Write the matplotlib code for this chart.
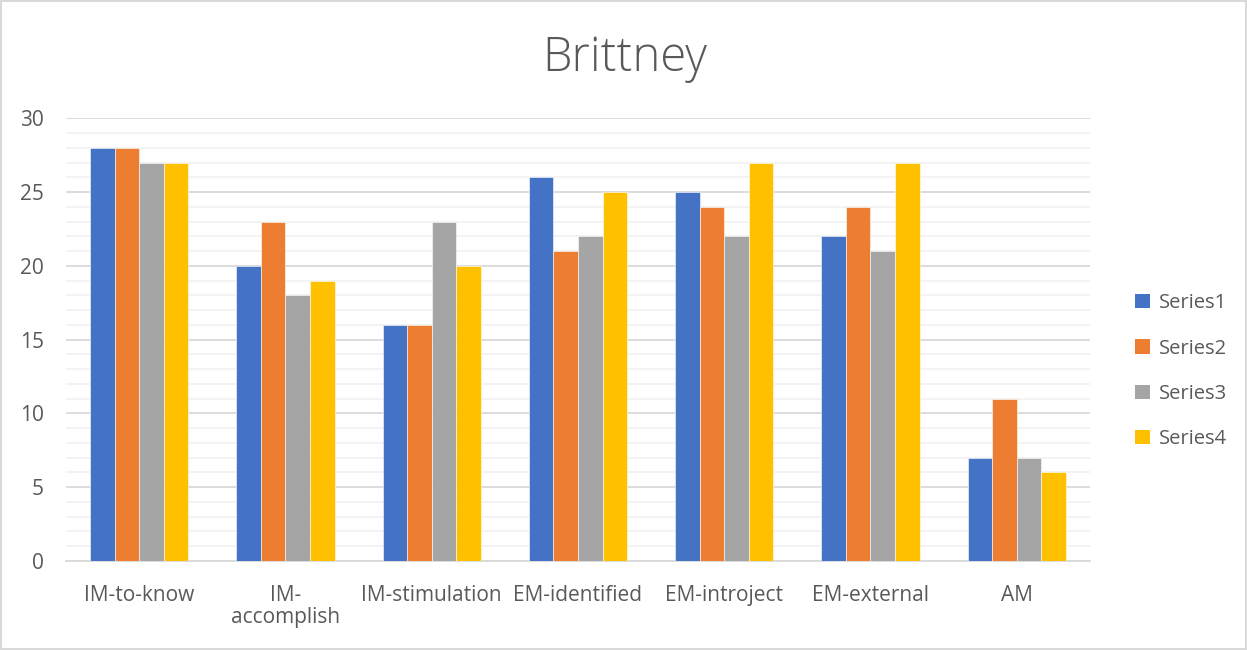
import matplotlib.pyplot as plt
import numpy as np
from matplotlib.patches import Patch
from matplotlib.ticker import MultipleLocator

plt.rcParams['font.family'] = ['Open Sans', 'DejaVu Sans']

categories = ['IM-to-know', 'IM-\naccomplish', 'IM-stimulation', 'EM-identified',
              'EM-introject', 'EM-external', 'AM']
series1 = [28, 20, 16, 26, 25, 22, 7]
series2 = [28, 23, 16, 21, 24, 24, 11]
series3 = [27, 18, 23, 22, 22, 21, 7]
series4 = [27, 19, 20, 25, 27, 27, 6]
series_names = ['Series1', 'Series2', 'Series3', 'Series4']
colors = ['#4472C4', '#ED7D31', '#A5A5A5', '#FFC000']
text_color = '#595959'

fig = plt.figure(figsize=(12.47, 6.5), dpi=100)
fig.patch.set_edgecolor('#D9D9D9')
fig.patch.set_linewidth(1.5)
ax = fig.add_axes([0.053, 0.137, 0.821, 0.681])

x = np.arange(len(categories))
width = 0.168
for i, (vals, c) in enumerate(zip([series1, series2, series3, series4], colors)):
    ax.bar(x + (i - 1.5) * width, vals, width, color=c, edgecolor='white',
           linewidth=0.4, zorder=3, label=series_names[i])

ax.set_xlim(-0.5, len(categories) - 0.5)
ax.set_ylim(0, 30)
ax.yaxis.set_major_locator(MultipleLocator(5))
ax.yaxis.set_minor_locator(MultipleLocator(1))
ax.grid(axis='y', which='major', color='#D9D9D9', linewidth=1.3, zorder=0)
ax.grid(axis='y', which='minor', color='#F2F2F2', linewidth=1.3, zorder=0)
for s in ['top', 'right', 'left']:
    ax.spines[s].set_visible(False)
ax.spines['bottom'].set_color('#D9D9D9')
ax.spines['bottom'].set_linewidth(1.3)
ax.tick_params(axis='both', which='both', length=0, colors=text_color, labelsize=15)
ax.tick_params(axis='y', pad=16)
ax.tick_params(axis='x', pad=17)
ax.set_xticks(x)
ax.set_xticklabels(categories, linespacing=1.1)
for lbl in ax.get_xticklabels():
    lbl.set_verticalalignment('top')

fig.text(0.501, 0.91, 'Brittney', ha='center', va='center', fontsize=34,
         fontweight='light', color=text_color)

handles = [Patch(facecolor=c, edgecolor='none') for c in colors]
leg = fig.legend(handles, series_names, loc='center left', bbox_to_anchor=(0.896, 0.429),
                 frameon=False, fontsize=14.5, labelcolor=text_color,
                 handlelength=0.7, handleheight=0.7, handletextpad=0.45,
                 labelspacing=1.25)

fig.savefig('out.png', dpi=100, facecolor='white', edgecolor=fig.get_edgecolor())
